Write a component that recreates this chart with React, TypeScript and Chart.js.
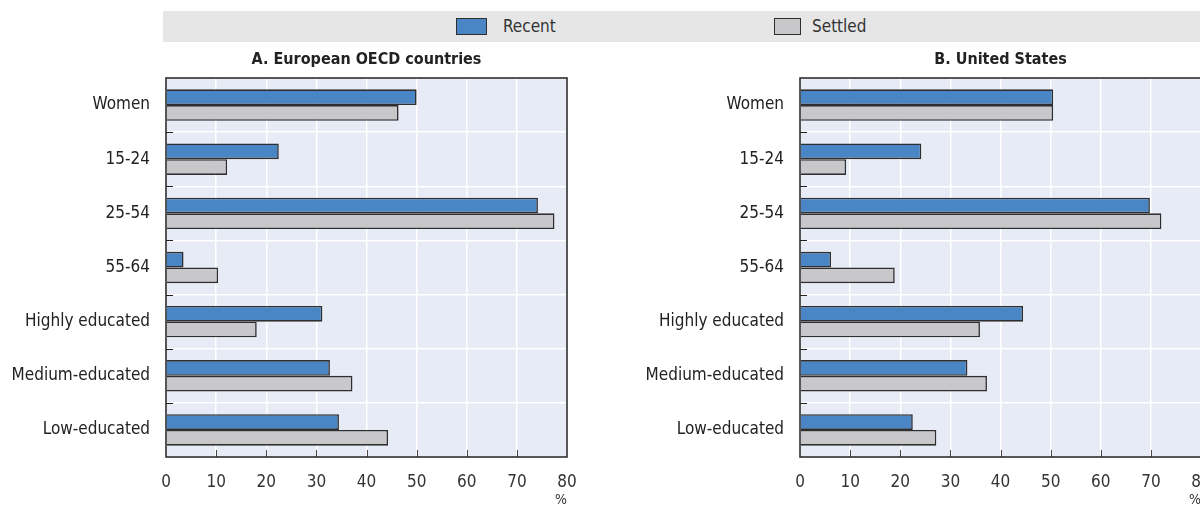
import React, { useEffect, useRef } from "react";
import { Chart, registerables } from "chart.js";

Chart.register(...registerables);

const categories = [
  "Women",
  "15-24",
  "25-54",
  "55-64",
  "Highly educated",
  "Medium-educated",
  "Low-educated",
];
const seriesNames = ["Recent", "Settled"];
const europeRecent = [50.0, 22.5, 74.2, 3.5, 31.2, 32.7, 34.5];
const europeSettled = [46.4, 12.2, 77.5, 10.4, 18.1, 37.2, 44.3];
const usRecent = [50.5, 24.2, 69.8, 6.2, 44.5, 33.4, 22.5];
const usSettled = [50.5, 9.2, 72.1, 18.9, 35.9, 37.3, 27.2];
const xTickValues = [0, 10, 20, 30, 40, 50, 60, 70, 80];
const panelTitles = ["A. European OECD countries", "B. United States"];

const FONT = "'Liberation Sans Narrow', 'Arial Narrow', 'DejaVu Sans Condensed', Roboto, sans-serif";
const BLUE = "#4a86c5";
const GREY = "#c8c8ca";
const EDGE = "#2e2e2e";
const PLOT_BG = "#e7ebf6";

const panelPlugin = {
  id: "panelDecor",
  beforeDraw(chart: any) {
    const { ctx, chartArea } = chart;
    ctx.save();
    ctx.fillStyle = PLOT_BG;
    ctx.fillRect(chartArea.left, chartArea.top, chartArea.right - chartArea.left, chartArea.bottom - chartArea.top);
    ctx.restore();
  },
  afterDraw(chart: any) {
    const { ctx, chartArea } = chart;
    const xs = chart.scales.x;
    const ys = chart.scales.y;
    ctx.save();
    ctx.strokeStyle = "#444";
    ctx.lineWidth = 1;
    xTickValues.slice(1, -1).forEach((v) => {
      const px = Math.round(xs.getPixelForValue(v)) + 0.5;
      ctx.beginPath();
      ctx.moveTo(px, chartArea.bottom);
      ctx.lineTo(px, chartArea.bottom - 7);
      ctx.stroke();
    });
    ctx.strokeStyle = "#222";
    for (let i = 1; i < categories.length; i++) {
      const py = Math.round((ys.getPixelForValue(i - 1) + ys.getPixelForValue(i)) / 2) + 0.5;
      ctx.beginPath();
      ctx.moveTo(chartArea.left, py);
      ctx.lineTo(chartArea.left + 7, py);
      ctx.stroke();
    }
    ctx.strokeStyle = EDGE;
    ctx.lineWidth = 1.6;
    ctx.strokeRect(chartArea.left, chartArea.top, chartArea.right - chartArea.left, chartArea.bottom - chartArea.top);
    ctx.restore();
  },
};

function Panel({ title, recent, settled, left }: { title: string; recent: number[]; settled: number[]; left: number }) {
  const ref = useRef<HTMLCanvasElement | null>(null);
  useEffect(() => {
    if (!ref.current) return;
    const chart = new Chart(ref.current, {
      type: "bar",
      data: {
        labels: categories,
        datasets: [
          {
            label: seriesNames[0],
            data: recent,
            backgroundColor: BLUE,
            borderColor: EDGE,
            borderWidth: 1.6,
            categoryPercentage: 0.58,
            barPercentage: 1,
          },
          {
            label: seriesNames[1],
            data: settled,
            backgroundColor: GREY,
            borderColor: EDGE,
            borderWidth: 1.6,
            categoryPercentage: 0.58,
            barPercentage: 1,
          },
        ],
      },
      options: {
        indexAxis: "y",
        responsive: false,
        animation: false,
        layout: { padding: { left: 0, right: 33, top: 0, bottom: 0 } },
        plugins: {
          legend: { display: false },
          tooltip: { enabled: false },
          title: {
            display: true,
            text: title,
            fullSize: false,
            color: "#222",
            font: { family: FONT, size: 16, weight: "bold" },
            padding: { top: 6.6, bottom: 8.2 },
          },
        },
        scales: {
          x: {
            min: 0,
            max: 80,
            afterBuildTicks(scale: any) {
              scale.ticks = xTickValues.map((v) => ({ value: v }));
            },
            afterFit(scale: any) {
              scale.height = 49;
            },
            grid: { color: "#ffffff", lineWidth: 1.5, drawTicks: false },
            border: { display: false },
            ticks: { color: "#333", font: { family: FONT, size: 17 }, padding: 15 },
            title: {
              display: true,
              text: "%",
              align: "end",
              color: "#333",
              font: { family: FONT, size: 14 },
              padding: { top: 0, bottom: -3 },
            },
          },
          y: {
            afterFit(scale: any) {
              scale.width = 166;
            },
            grid: { color: "#ffffff", lineWidth: 1.5, drawTicks: false, offset: true },
            border: { display: false },
            ticks: { color: "#222", font: { family: FONT, size: 17 }, padding: 16 },
          },
        },
      },
      plugins: [panelPlugin],
    });
    return () => chart.destroy();
  }, [title, recent, settled]);
  return (
    <canvas
      ref={ref}
      width={600}
      height={462}
      style={{ position: "absolute", left, top: 44, width: 600, height: 462 }}
    />
  );
}

export default function App() {
  const legendText: React.CSSProperties = {
    position: "absolute",
    top: 15,
    fontFamily: FONT,
    fontSize: 17,
    color: "#333",
    lineHeight: "22px",
  };
  return (
    <div
      style={{
        position: "absolute",
        left: 0,
        top: 0,
        width: 1200,
        height: 506,
        overflow: "hidden",
        background: "#fff",
      }}
    >
      <div style={{ position: "absolute", left: 163, top: 11, width: 1037, height: 31, background: "#e6e6e7" }} />
      <div style={{ position: "absolute", left: 456, top: 18, width: 29, height: 15, background: BLUE, border: `1px solid ${EDGE}` }} />
      <div style={{ ...legendText, left: 503 }}>{seriesNames[0]}</div>
      <div style={{ position: "absolute", left: 774, top: 18, width: 25, height: 15, background: GREY, border: `1px solid ${EDGE}` }} />
      <div style={{ ...legendText, left: 812 }}>{seriesNames[1]}</div>
      <Panel title={panelTitles[0]} recent={europeRecent} settled={europeSettled} left={0} />
      <Panel title={panelTitles[1]} recent={usRecent} settled={usSettled} left={634} />
    </div>
  );
}
